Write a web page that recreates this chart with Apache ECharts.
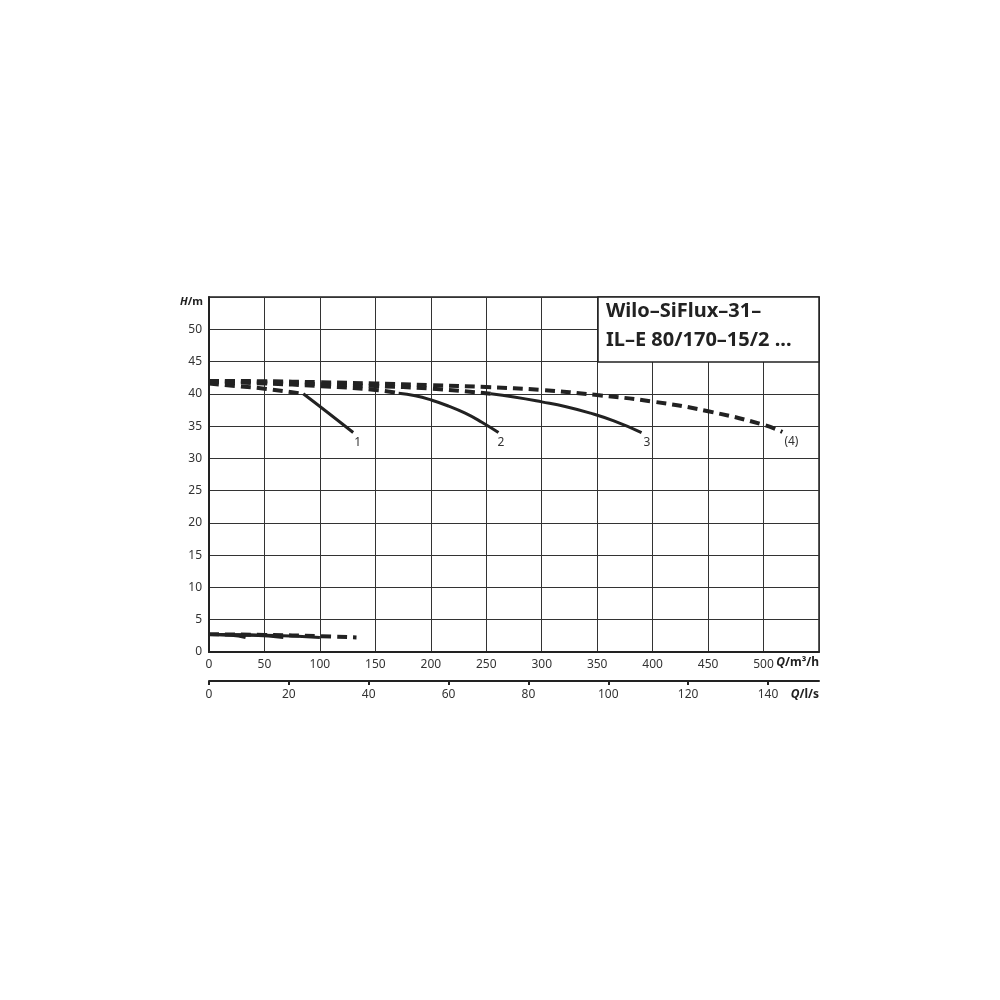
<!DOCTYPE html>
<html>
<head>
<meta charset="utf-8">
<script src="https://cdn.jsdelivr.net/npm/echarts@6/dist/echarts.min.js"></script>
<style>
html,body{margin:0;padding:0;background:#fff;}
#main{width:1000px;height:1000px;}
</style>
</head>
<body>
<div id="main"></div>
<script>
// Q in m3/h, H in m
var curveNames = ['1', '2', '3', '(4)'];
var dash1 = [[0, 41.6], [25, 41.2], [50, 40.8], [85, 40.0]];
var solid1 = [[85, 40.0], [107, 37.1], [130, 34.0]];
var dash2 = [[0, 41.9], [50, 41.6], [100, 41.2], [150, 40.6], [171, 40.1]];
var solid2 = [[171, 40.1], [186, 39.7], [201, 39.0], [216, 38.1], [231, 37.0], [246, 35.6], [261, 34.0]];
var dash3 = [[0, 42.0], [50, 41.8], [100, 41.5], [150, 41.2], [200, 40.8], [254, 40.0]];
var solid3 = [[254, 40.0], [275, 39.5], [300, 38.75], [322, 38.0], [344, 37.0], [365, 35.8], [390, 34.0]];
var dash4 = [[0, 42.0], [50, 41.95], [100, 41.8], [150, 41.6], [200, 41.35], [250, 41.05],
             [300, 40.6], [350, 39.8], [400, 38.8], [450, 37.3], [500, 35.2], [517, 34.1]];
// kleine Kurven unten
var low1 = [[0, 2.7], [20, 2.6], [33, 2.25]];
var low2 = [[0, 2.7], [40, 2.6], [67, 2.25]];
var low3 = [[0, 2.7], [60, 2.55], [100, 2.25]];
var low4 = [[0, 2.75], [50, 2.65], [100, 2.45], [133, 2.25]];

var titleLines = ['Wilo–SiFlux–31–', 'IL–E 80/170–15/2 ...'];
var labelOffsets = [[-7, 10], [-9, 10], [-6, 10], [-6, 10]];

var myChart = echarts.init(document.getElementById('main'));
var fontFam = 'Noto Sans';

function endLbl(i) {
    return {
        show: true, formatter: curveNames[i], offset: labelOffsets[i],
        color: '#333', fontSize: 12, fontFamily: fontFam
    };
}
function dashSeries(d, w) {
    return {
        type: 'line', data: d, symbol: 'none', smooth: true, z: 3,
        lineStyle: {color: '#222', width: w || 4, type: [10, 6]}
    };
}
function solidSeries(d, i, w) {
    var s = {
        type: 'line', data: d, symbol: 'none', smooth: true, z: 4,
        lineStyle: {color: '#222', width: w || 3, type: 'solid'}
    };
    if (i != null) s.endLabel = endLbl(i);
    return s;
}

var dash4Series = dashSeries(dash4);
dash4Series.endLabel = endLbl(3);

var option = {
    animation: false,
    backgroundColor: '#fff',
    grid: {
        left: 209, top: 297, width: 610, height: 355,
        show: true, borderColor: '#222', borderWidth: 1.5
    },
    xAxis: [{
        type: 'value', min: 0, max: 550, interval: 50,
        axisLine: {show: true, onZero: false, lineStyle: {color: '#222', width: 2}},
        axisTick: {show: false},
        splitLine: {show: true, lineStyle: {color: '#333', width: 1}},
        axisLabel: {showMaxLabel: false, color: '#333', fontSize: 12, fontFamily: fontFam, margin: 7}
    }, {
        type: 'value', min: 0, max: 550 / 3.6, interval: 20,
        position: 'bottom', offset: 29,
        axisLine: {show: true, onZero: false, lineStyle: {color: '#222', width: 2}},
        axisTick: {show: true, length: 4, lineStyle: {color: '#222', width: 2}},
        splitLine: {show: false},
        axisLabel: {showMaxLabel: false, color: '#333', fontSize: 12, fontFamily: fontFam, margin: 8}
    }],
    yAxis: {
        type: 'value', min: 0, max: 55, interval: 5,
        axisLine: {show: true, onZero: false, lineStyle: {color: '#222', width: 2}},
        axisTick: {show: false},
        splitLine: {show: true, lineStyle: {color: '#333', width: 1}},
        axisLabel: {showMaxLabel: false, color: '#333', fontSize: 12, fontFamily: fontFam, margin: 7}
    },
    graphic: [{
        type: 'rect', z: 10,
        shape: {x: 598, y: 297, width: 221, height: 65},
        style: {fill: '#fff', stroke: '#222', lineWidth: 1.5}
    }, {
        type: 'text', z: 11, left: 606, top: 297,
        style: {text: titleLines.join('\n'), font: 'bold 20px "Noto Sans"', fill: '#222', lineHeight: 29}
    }, {
        type: 'text', z: 11, left: 180, top: 296,
        style: {
            text: '{i|H}{b|/m}',
            rich: {
                i: {font: 'italic bold 11px "Noto Sans"', fill: '#222'},
                b: {font: 'bold 11px "Noto Sans"', fill: '#222'}
            }
        }
    }, {
        type: 'text', z: 11, right: 181, top: 657,
        style: {
            text: '{i|Q}{b|/m³/h}',
            rich: {
                i: {font: 'italic bold 12px "Noto Sans"', fill: '#222'},
                b: {font: 'bold 12px "Noto Sans"', fill: '#222'}
            }
        }
    }, {
        type: 'text', z: 11, right: 181, top: 689,
        style: {
            text: '{i|Q}{b|/l/s}',
            rich: {
                i: {font: 'italic bold 12px "Noto Sans"', fill: '#222'},
                b: {font: 'bold 12px "Noto Sans"', fill: '#222'}
            }
        }
    }],
    series: [
        dashSeries(dash1), solidSeries(solid1, 0),
        dashSeries(dash2), solidSeries(solid2, 1),
        dashSeries(dash3), solidSeries(solid3, 2),
        dash4Series,
        solidSeries(low1, null, 3), solidSeries(low2, null, 3),
        solidSeries(low3, null, 3), dashSeries(low4, 4)
    ]
};

myChart.setOption(option);
</script>
</body>
</html>
